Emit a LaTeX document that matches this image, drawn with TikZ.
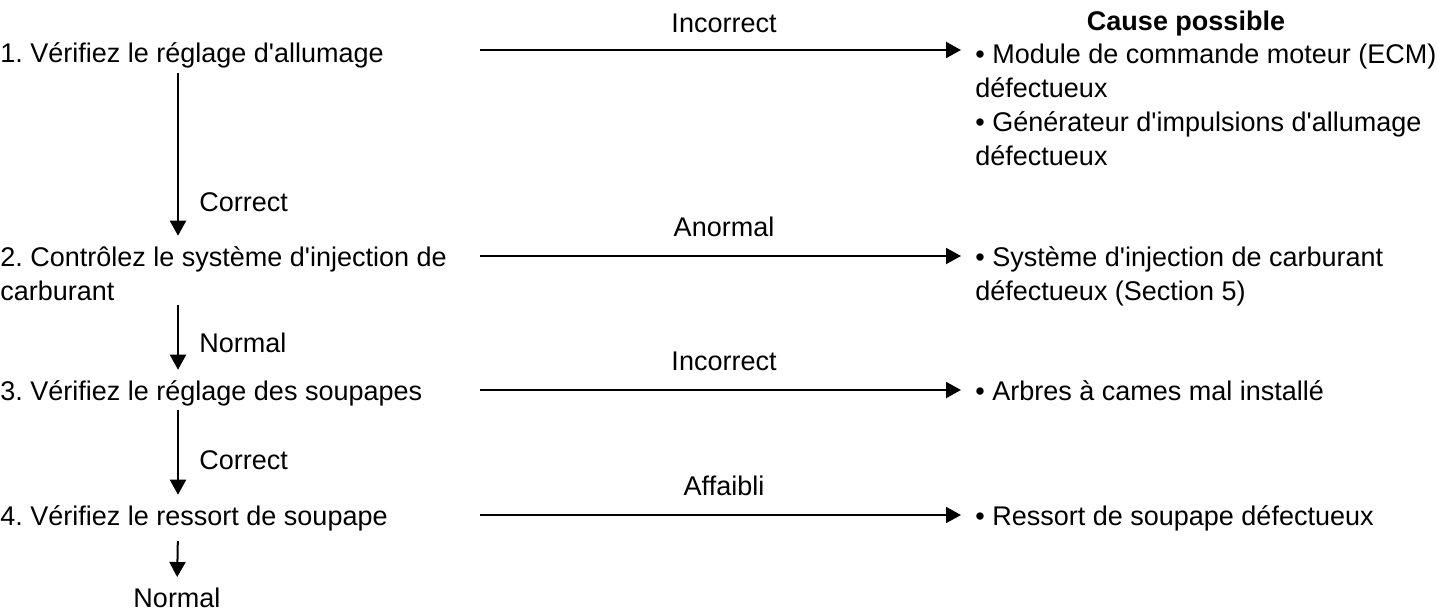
\documentclass[tikz,border=0pt]{standalone}
\usepackage{fontspec}
\newfontfamily\arial{Liberation Sans}
\usetikzlibrary{arrows.meta}
\frenchspacing
\tikzset{
	txt/.style={anchor=base west,inner sep=0pt,align=left,font=\arial\fontsize{13.5}{17}\selectfont},
	lab/.style={txt,anchor=base},
	flow/.style={line width=1pt,-{Triangle[length=7.5pt,width=8pt]}},
}
\begin{document}
\begin{tikzpicture}[x=0.5pt,y=-0.5pt]
	\useasboundingbox (0,0) rectangle (1438,610);

	\coordinate (col) at (178,0);

	\node[txt] (q1) at (0,63) {1. Vérifiez le réglage d'allumage};
	\node[txt] (q2) at (0,300) {2. Contrôlez le système d'injection de\\carburant};
	\node[txt] (q3) at (0,400) {3. Vérifiez le réglage des soupapes};
	\node[txt] (q4) at (0,525) {4. Vérifiez le ressort de soupape};
	\node[lab] (fin) at (177,607) {Normal};

	\node[txt] (v1) at (199,211) {Correct};
	\node[txt] (v2) at (199,352) {Normal};
	\node[txt] (v3) at (199,469) {Correct};

	\node[lab] (t1) at (724,33) {Incorrect};
	\node[lab] (t2) at (724,236) {Anormal};
	\node[lab] (t3) at (724,370) {Incorrect};
	\node[lab] (t4) at (724,495) {Affaibli};

	\node[lab,font=\arial\bfseries\fontsize{13.5}{17}\selectfont] (cause) at (1186,31) {Cause possible};
	\node[txt] (c1) at (975,165) {• Module de commande moteur (ECM)\\défectueux\\• Générateur d'impulsions d'allumage\\défectueux};
	\node[txt] (c2) at (975,300) {• Système d'injection de carburant\\défectueux (Section 5)};
	\node[txt] (c3) at (975,400) {• Arbres à cames mal installé};
	\node[txt] (c4) at (975,525) {• Ressort de soupape défectueux};

	\coordinate (h1) at (480,50);
	\coordinate (h2) at (480,256);
	\coordinate (h3) at (480,390);
	\coordinate (h4) at (480,515);

	\draw[flow,shorten >=7pt] (h1) -- (h1 -| c1.west);
	\draw[flow,shorten >=7pt] (h2) -- (h2 -| c2.west);
	\draw[flow,shorten >=7pt] (h3) -- (h3 -| c3.west);
	\draw[flow,shorten >=7pt] (h4) -- (h4 -| c4.west);

	\draw[flow,shorten <=2pt,shorten >=5pt] (q1.south -| col) -- (q2.north -| col);
	\draw[flow,shorten <=2pt,shorten >=5pt] (q2.south -| col) -- (q3.north -| col);
	\draw[flow,shorten <=2pt,shorten >=5pt] (q3.south -| col) -- (q4.north -| col);
	\draw[flow,shorten <=5pt,shorten >=5pt] (q4.south -| col) -- (fin.north);
\end{tikzpicture}
\end{document}
